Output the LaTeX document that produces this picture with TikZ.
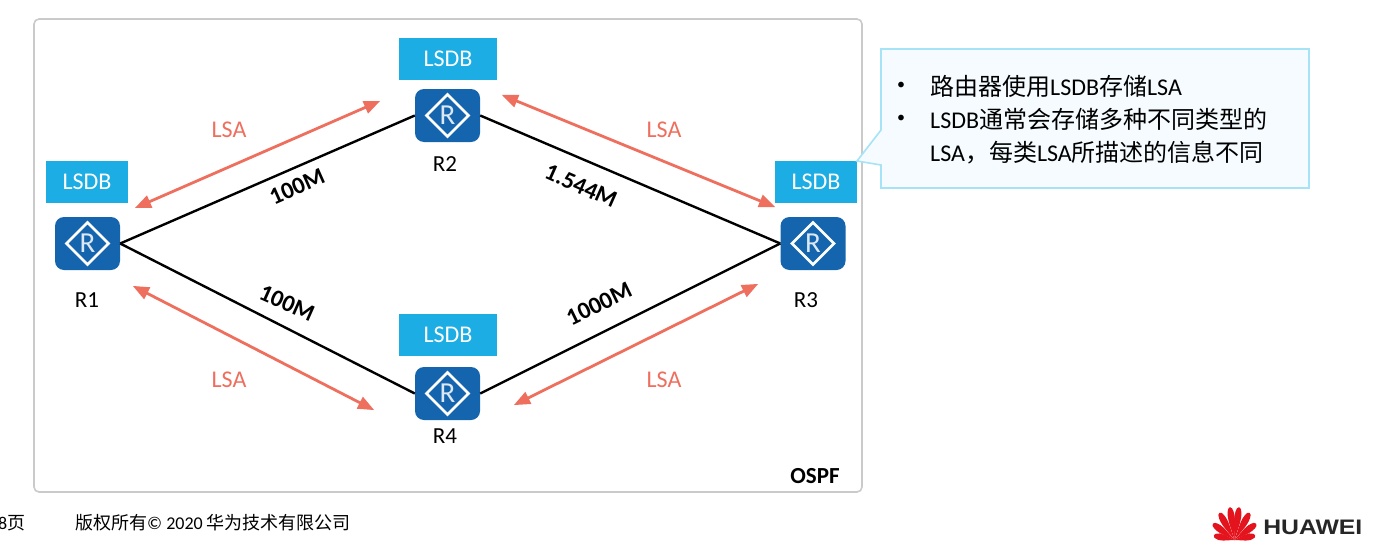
\documentclass[tikz,border=0pt]{standalone}
\usepackage{fontspec}
\setmainfont{Carlito}
\newfontfamily\cjk{Noto Sans CJK SC}
\newfontfamily\logofont{Liberation Sans}
\usetikzlibrary{arrows,shapes.geometric}
\definecolor{routerblue}{HTML}{1464AE}
\definecolor{lsdbblue}{HTML}{1CADE4}
\definecolor{lsacoral}{HTML}{EE6F5E}
\definecolor{framegray}{HTML}{CACACA}
\definecolor{noteedge}{HTML}{A6E3F7}
\definecolor{notefill}{HTML}{F5FBFE}
\definecolor{huaweired}{HTML}{E3141D}
\newcommand{\cn}[1]{{\cjk #1}}

\begin{document}
\begin{tikzpicture}[x=1pt,y=-1pt,>=triangle 45]
		\tikzstyle{router} = [rectangle,rounded corners=9pt,fill=routerblue,minimum width=65pt,minimum height=53pt,inner sep=0pt];
		\tikzstyle{routermark} = [diamond,draw=white,line width=2.6pt,aspect=1,minimum size=43pt,inner sep=0pt,text=white!85!routerblue,font=\fontsize{29}{29}\selectfont];
		\tikzstyle{lsdb} = [rectangle,fill=lsdbblue,text=white,inner sep=0pt,font=\fontsize{24}{24}\selectfont];
		\tikzstyle{routerlabel} = [font=\fontsize{23}{23}\selectfont];
		\tikzstyle{lsa} = [text=lsacoral,font=\fontsize{24}{24}\selectfont];
		\tikzstyle{speed} = [font=\bfseries\fontsize{24}{24}\selectfont];
		\tikzstyle{link} = [line width=2.4pt,black];
		\tikzstyle{flood} = [<->,line width=2.8pt,lsacoral];
		\tikzstyle{noteline} = [anchor=west,inner sep=0pt,font=\fontsize{24}{24}\selectfont];
		\tikzstyle{footline} = [anchor=west,inner sep=0pt,font=\fontsize{18}{18}\selectfont];
		\useasboundingbox (0,0) rectangle (1381,546);
		\draw[framegray,line width=1.6pt,rounded corners=5pt] (34,19) rectangle (862,492);
		\node[font=\bfseries\fontsize{23}{23}\selectfont] (ospf) at (815,476) {OSPF};
		% routers
		\node[router] (R1) at (87.5,243.5) {};
		\node[router] (R2) at (447.5,115.5) {};
		\node[router] (R3) at (813,243.5) {};
		\node[router] (R4) at (447.5,393.5) {};
		\node[routermark] (M1) at (R1) {R};
		\node[routermark] (M2) at (R2) {R};
		\node[routermark] (M3) at (R3) {R};
		\node[routermark] (M4) at (R4) {R};
		\node[routerlabel] (N1) at (87,300) {R1};
		\node[routerlabel] (N2) at (445,164) {R2};
		\node[routerlabel] (N3) at (806,300) {R3};
		\node[routerlabel] (N4) at (445,436) {R4};
		% databases
		\node[lsdb,minimum width=82pt,minimum height=42pt] (D1) at (87,182) {\raisebox{-1pt}{LSDB}};
		\node[lsdb,minimum width=98pt,minimum height=42pt] (D2) at (448,59) {\raisebox{-1pt}{LSDB}};
		\node[lsdb,minimum width=82pt,minimum height=42pt] (D3) at (816,182) {\raisebox{-1pt}{LSDB}};
		\node[lsdb,minimum width=98pt,minimum height=42pt] (D4) at (448,335) {\raisebox{-1pt}{LSDB}};
		% links
		\draw[link] (R1.east) edge (R2.west);
		\draw[link] (R2.east) edge (R3.west);
		\draw[link] (R1.east) edge (R4.west);
		\draw[link] (R4.east) edge (R3.west);
		\node[speed,rotate=24] (S12) at (297,187) {100M};
		\node[speed,rotate=-24] (S23) at (581,186) {1.544M};
		\node[speed,rotate=-24] (S14) at (287,303) {100M};
		\node[speed,rotate=26] (S43) at (599,304) {1000M};
		% LSA flooding
		\coordinate (a1) at (135,208);
		\coordinate (a2) at (380,101);
		\coordinate (b1) at (502,95);
		\coordinate (b2) at (775,207);
		\coordinate (c1) at (133,286);
		\coordinate (c2) at (374,410);
		\coordinate (d1) at (514,405);
		\coordinate (d2) at (758,284);
		\draw[flood] (a1) -- (a2);
		\draw[flood] (b1) -- (b2);
		\draw[flood] (c1) -- (c2);
		\draw[flood] (d1) -- (d2);
		\node[lsa] (L1) at (229,130) {LSA};
		\node[lsa] (L2) at (664,130) {LSA};
		\node[lsa] (L3) at (229,380) {LSA};
		\node[lsa] (L4) at (664,380) {LSA};
		% callout
		\draw[noteedge,fill=notefill,line width=1.6pt] (881,49) -- (1309,49) -- (1309,188) -- (881,188) -- (881,165) -- (857,161) -- (881,130) -- cycle;
		\node[noteline,font=\fontsize{16}{16}\selectfont] (B1) at (897,86) {•};
		\node[noteline,font=\fontsize{16}{16}\selectfont] (B2) at (897,119) {•};
		\node[noteline] (T1) at (930,86) {\cn{路由器使用}LSDB\cn{存储}LSA};
		\node[noteline] (T2) at (930,119) {LSDB\cn{通常会存储多种不同类型的}};
		\node[noteline] (T3) at (930,153) {LSA\cn{，每类}LSA\cn{所描述的信息不同}};
		% footer
		\node[footline] (page) at (-2,523) {8\cn{页}};
		\node[footline] (copy) at (75,523) {\cn{版权所有}© 2020 \cn{华为技术有限公司}};
		% logo
		\foreach \ang/\len in {-78/21,-53/27,-29/31,-8/33,8/33,29/31,53/27,78/21}
			\fill[huaweired,shift={(1234.5,540)},rotate=\ang] (0,0) .. controls (-1.5,-\len*0.35) and (-5.5,-\len*0.7) .. (-2,-\len*0.96) .. controls (-1,-\len*1.02) and (1,-\len*1.02) .. (2,-\len*0.96) .. controls (5.5,-\len*0.7) and (1.5,-\len*0.35) .. (0,0);
		\node[anchor=west,inner sep=0pt,xscale=1.18,text=black!85,font=\logofont\bfseries\fontsize{21}{21}\selectfont] (logo) at (1263,527) {HUAWEI};
	\end{tikzpicture}
\end{document}
